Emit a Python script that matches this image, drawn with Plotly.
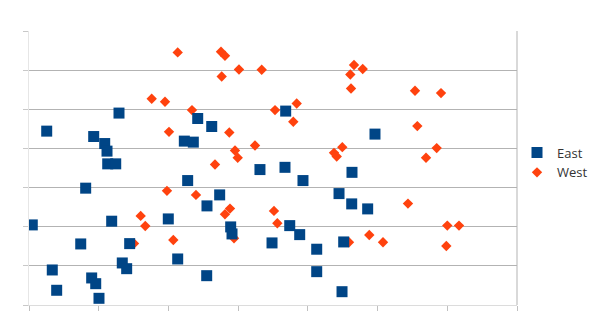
import plotly.graph_objects as go

east_x = [2.54, 12.91, 9.28, 10.86, 11.19, 11.29, 12.44, 24.20, 26.21, 22.28, 23.57, 33.13,
          36.82, 49.63, 36.72, 46.33, 8.13, 0.47, 11.86, 7.42, 14.44, 3.34, 13.38, 14.01,
          8.99, 9.57, 3.97, 10.04, 22.76, 27.35, 25.53, 19.98, 28.93, 29.12, 21.33, 25.49,
          34.86, 39.30, 44.47, 46.29, 48.58, 37.40, 38.83, 45.14, 41.27, 41.27, 44.90]
east_y = [44.42, 49.03, 43.04, 41.25, 39.31, 36.06, 36.06, 47.65, 45.60, 41.87, 41.61, 34.60,
          49.54, 43.66, 35.17, 33.89, 29.85, 20.46, 21.41, 15.60, 15.68, 8.95, 10.74, 9.28,
          6.91, 5.45, 3.76, 1.71, 31.79, 28.13, 25.32, 21.99, 19.95, 18.16, 11.76, 7.49,
          15.86, 31.79, 28.46, 25.83, 24.55, 20.28, 17.98, 16.11, 14.25, 8.52, 3.40]

west_x = [21.33, 27.54, 28.11, 30.12, 33.38, 27.64, 17.60, 19.51, 23.38, 20.08, 28.73, 29.55,
          29.94, 32.42, 26.68, 46.62, 47.87, 46.09, 46.19, 35.29, 38.40, 37.91, 44.94, 43.75,
          44.14, 55.37, 59.10, 55.70, 58.48, 56.95, 16.02, 16.68, 15.06, 19.79, 23.95, 28.83,
          28.11, 20.70, 29.41, 35.14, 35.62, 48.81, 50.78, 45.90, 54.36, 60.00, 61.68, 59.86]
west_y = [64.53, 64.70, 63.68, 60.18, 60.10, 58.39, 52.68, 51.92, 49.79, 44.24, 44.07, 39.46,
          37.60, 40.74, 35.88, 61.30, 60.28, 58.90, 55.32, 49.79, 51.48, 46.80, 40.33, 38.87,
          37.93, 54.73, 54.14, 45.70, 40.08, 37.60, 22.76, 20.20, 15.73, 29.16, 28.13, 24.63,
          23.20, 16.62, 17.06, 24.04, 20.89, 17.90, 16.04, 16.04, 25.91, 20.28, 20.28, 15.09]

fig = go.Figure()
fig.add_trace(go.Scatter(x=west_x, y=west_y, mode="markers", name="West", legendrank=2,
                         marker=dict(symbol="diamond", size=8, color="#ff420e")))
fig.add_trace(go.Scatter(x=east_x, y=east_y, mode="markers", name="East", legendrank=1,
                         marker=dict(symbol="square", size=11, color="#004586")))

fig.update_layout(
    width=600, height=327,
    margin=dict(l=29, r=83, t=31, b=22, autoexpand=False),
    paper_bgcolor="white", plot_bgcolor="white",
    font=dict(family="Open Sans", size=13, color="#333333"),
    showlegend=True,
    legend=dict(x=1.0, xanchor="left", y=0.52, yanchor="middle",
                bgcolor="rgba(0,0,0,0)", tracegroupgap=0, font=dict(size=13)),
    xaxis=dict(range=[0, 70], dtick=10, tick0=0, showgrid=False, zeroline=False,
               showline=True, linecolor="#dcdcdc", linewidth=1,
               ticks="outside", ticklen=5, tickcolor="#c0c0c0", showticklabels=False),
    yaxis=dict(range=[0, 70], dtick=10, tick0=0, showgrid=True, gridcolor="#b3b3b3",
               zeroline=False, showline=True, linecolor="#e6e6e6", linewidth=1,
               ticks="outside", ticklen=5, tickcolor="#c8c8c8", showticklabels=False),
    shapes=[dict(type="line", xref="paper", yref="paper", x0=1, x1=1, y0=0, y1=1,
                 line=dict(color="#b3b3b3", width=1))],
)

fig.write_html("out.html")
